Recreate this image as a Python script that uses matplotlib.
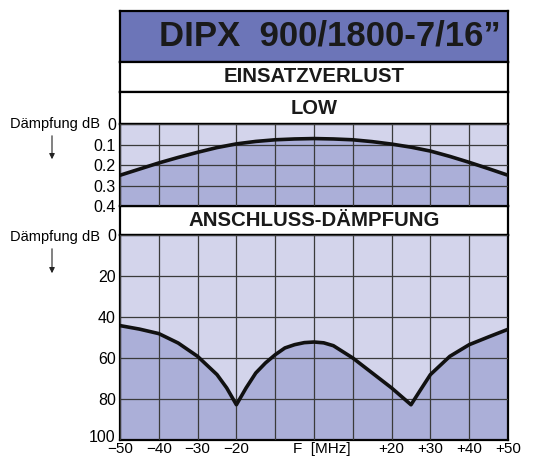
import numpy as np
import matplotlib
matplotlib.use('Agg')
import matplotlib.pyplot as plt
from matplotlib.patches import FancyArrowPatch
from matplotlib.transforms import ScaledTranslation

plt.rcParams['font.family'] = ['Liberation Sans', 'DejaVu Sans']

# Einsatzverlust LOW [dB] ueber Frequenz [MHz]
loss_freq = [-50, -45, -40, -35, -30, -25, -20, -15, -10, -5, 0, 5, 10, 15, 20, 25, 30, 35, 40, 45, 50]
loss_db = [0.25, 0.22, 0.19, 0.163, 0.138, 0.115, 0.097, 0.085, 0.077, 0.073, 0.071,
           0.073, 0.077, 0.086, 0.098, 0.113, 0.132, 0.158, 0.187, 0.218, 0.25]

# Anschluss-Daempfung [dB] ueber Frequenz [MHz]
ret_freq = [-50, -45, -40, -35, -30, -25, -22.5, -20, -17.5, -15, -12.5, -10, -7.5, -5, -2.5, 0,
            2.5, 5, 10, 15, 20, 22.5, 25, 27.5, 30, 35, 40, 45, 50]
ret_db = [44.2, 45.9, 48.1, 52.7, 59.2, 68.1, 74.6, 82.8, 74.6, 67.3, 62.4, 58.4, 55.1, 53.5, 52.5, 52.2,
          52.6, 54, 60, 67.3, 74.6, 78.7, 82.8, 75.4, 68.1, 59.2, 53.5, 49.7, 46]

x_ticks = [-50, -40, -30, -20, 20, 30, 40, 50]
x_labels = ['\u221250', '\u221240', '\u221230', '\u221220', '+20', '+30', '+40', '+50']

top_ticks = [0, 0.1, 0.2, 0.3, 0.4]
top_labels = ['0', '0.1', '0.2', '0.3', '0.4']
bot_ticks = [0, 20, 40, 60, 80, 100]
bot_labels = ['0', '20', '40', '60', '80', '100']

LIGHT = '#d3d4eb'
DARK = '#abafd8'
HEAD = '#6c75b8'
GRID = '#3a3a3a'

W, H = 551, 458
fig = plt.figure(figsize=(W / 100, H / 100), dpi=100)


def rect(y0, y1, x0=120, x1=508):
    # Pixelkoordinaten -> Figure-Anteile
    return [x0 / W, 1 - y1 / H, (x1 - x0) / W, (y1 - y0) / H]


def box(y0, y1, text, color, size, xpos=0.5):
    ax = fig.add_axes(rect(y0, y1))
    ax.set_facecolor(color)
    ax.set_xticks([])
    ax.set_yticks([])
    for s in ax.spines.values():
        s.set_linewidth(1.6)
    ax.text(xpos, 0.5, text, ha='center', va='center', fontsize=size,
            fontweight='bold', color='#1a1a1a', transform=ax.transAxes)
    return ax


box(11, 62, 'DIPX  900/1800-7/16\u201d', HEAD, 25, xpos=0.54)
box(62, 92, 'EINSATZVERLUST', 'white', 14.7)
box(92, 124, 'LOW', 'white', 14.5)
box(206, 235, 'ANSCHLUSS-DÄMPFUNG', 'white', 14.7)


def panel(ax, xs, ys, ymax, yt, yl):
    ax.set_facecolor(LIGHT)
    ax.fill_between(xs, ys, ymax, color=DARK, zorder=1)
    ax.plot(xs, ys, color='#111111', lw=2.6, zorder=3)
    ax.set_xlim(-50, 50)
    ax.set_ylim(ymax, 0)
    ax.set_xticks(np.arange(-50, 51, 10))
    ax.set_xticklabels([])
    ax.set_yticks(yt)
    ax.set_yticklabels(yl, fontsize=11.5)
    ax.grid(True, color=GRID, lw=0.9, zorder=2)
    ax.set_axisbelow(False)
    ax.tick_params(length=0, pad=3)
    for s in ax.spines.values():
        s.set_linewidth(1.6)


ax1 = fig.add_axes(rect(124, 206))
panel(ax1, loss_freq, loss_db, 0.4, top_ticks, top_labels)

ax2 = fig.add_axes(rect(235, 440))
panel(ax2, ret_freq, ret_db, 100, bot_ticks, bot_labels)
# "100" etwas anheben, damit es nicht mit "-50" kollidiert
lab100 = ax2.get_yticklabels()[-1]
lab100.set_transform(lab100.get_transform() + ScaledTranslation(0, 4 / 100, fig.dpi_scale_trans))

xt = ax2.get_xaxis_transform()
for xv, lab in zip(x_ticks, x_labels):
    ax2.text(xv, -0.012, lab, ha='center', va='top', fontsize=11, transform=xt)
ax2.text(2, -0.012, 'F  [MHz]', ha='center', va='top', fontsize=11, transform=xt)

# Achsenbeschriftung links
for y_text, y_a0, y_a1 in [(124, 133, 162), (237, 246, 276)]:
    fig.text(10 / W, 1 - y_text / H, 'Dämpfung dB', fontsize=10.5, va='center', ha='left')
    fig.add_artist(FancyArrowPatch(
        (52 / W, 1 - y_a0 / H), (52 / W, 1 - y_a1 / H), transform=fig.transFigure,
        arrowstyle='-|>', mutation_scale=8, lw=0.8, color='#222222'))

fig.savefig('out.png', dpi=100)
